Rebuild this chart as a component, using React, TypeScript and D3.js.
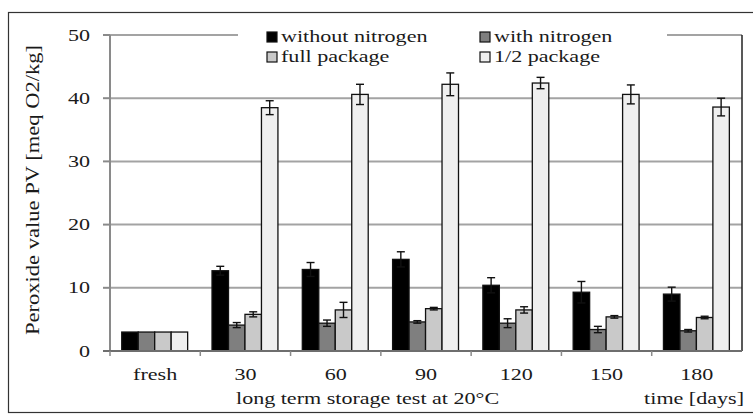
import * as d3 from 'd3'

const categories = ['fresh', '30', '60', '90', '120', '150', '180']
const seriesNames = ['without nitrogen', 'with nitrogen', 'full package', '1/2 package']
const seriesColors = ['#000000', '#7f7f7f', '#c9c9c9', '#efefef']

// values (meq O2/kg)
const withoutNitrogen = [3.0, 12.7, 12.9, 14.5, 10.4, 9.3, 9.0]
const withNitrogen = [3.0, 4.1, 4.4, 4.6, 4.4, 3.4, 3.2]
const fullPackage = [3.0, 5.8, 6.5, 6.7, 6.5, 5.4, 5.3]
const halfPackage = [3.0, 38.5, 40.6, 42.2, 42.4, 40.6, 38.6]

const errWithout = [0, 0.7, 1.1, 1.2, 1.2, 1.7, 1.1]
const errWith = [0, 0.4, 0.5, 0.2, 0.7, 0.5, 0.2]
const errFull = [0, 0.4, 1.2, 0.2, 0.5, 0.2, 0.2]
const errHalf = [0, 1.1, 1.6, 1.8, 0.9, 1.5, 1.4]

const yTicks = [0, 10, 20, 30, 40, 50]

const values = [withoutNitrogen, withNitrogen, fullPackage, halfPackage]
const errors = [errWithout, errWith, errFull, errHalf]

const FONT = "'Liberation Serif', 'DejaVu Serif', serif"
const SX = 1.38

function T({ x, y, anchor = 'start', size = 16, children }: { x: number; y: number; anchor?: string; size?: number; children: any }) {
  return (
    <text transform={`translate(${x},${y}) scale(${SX},1)`} textAnchor={anchor} fontSize={size} style={{ fontFamily: FONT }} fill="#1a1a1a">
      {children}
    </text>
  )
}

export default function App() {
  const width = 753
  const height = 416
  const left = 110
  const right = 742
  const top = 35
  const bottom = 351

  const y = d3.scaleLinear().domain([0, 50]).range([bottom, top])
  const x0 = d3.scaleBand().domain(categories).range([left, right])
  const bw = x0.bandwidth()
  const x1 = d3.scaleBand().domain(seriesNames).range([bw * 0.13, bw * 0.86])
  const w = x1.bandwidth()

  const legendItems = [
    { name: seriesNames[0], color: seriesColors[0], x: 267, y: 37 },
    { name: seriesNames[1], color: seriesColors[1], x: 480, y: 37 },
    { name: seriesNames[2], color: seriesColors[2], x: 267, y: 57 },
    { name: seriesNames[3], color: seriesColors[3], x: 480, y: 57 },
  ]

  return (
    <svg width={width} height={height} style={{ position: 'absolute', left: 0, top: 0, background: '#fff' }}>
      {/* outer frame */}
      <rect x={8.5} y={12.5} width={760} height={400} fill="none" stroke="#333" strokeWidth={1.2} />

      {/* gridlines */}
      {yTicks.filter((t) => t > 0).map((t) => (
        <line key={t} x1={left} x2={right} y1={y(t)} y2={y(t)} stroke="#a3a3a3" strokeWidth={2} />
      ))}

      {/* legend box hides the top gridline */}
      <rect x={238} y={18} width={429} height={52} fill="#fff" />

      {/* bars */}
      {categories.map((c, i) => (
        <g key={c} transform={`translate(${x0(c)},0)`}>
          {seriesNames.map((s, k) => {
            const v = values[k][i]
            const e = errors[k][i]
            const bx = x1(s)!
            return (
              <g key={s}>
                <rect x={bx} y={y(v)} width={w} height={y(0) - y(v)} fill={seriesColors[k]} stroke="#111" strokeWidth={1.3} />
                {e > 0 && (
                  <g stroke="#111" strokeWidth={1.4}>
                    <line x1={bx + w / 2} x2={bx + w / 2} y1={y(v + e)} y2={y(v - e)} />
                    <line x1={bx + w / 2 - 4} x2={bx + w / 2 + 4} y1={y(v + e)} y2={y(v + e)} />
                    <line x1={bx + w / 2 - 4} x2={bx + w / 2 + 4} y1={y(v - e)} y2={y(v - e)} />
                  </g>
                )}
              </g>
            )
          })}
        </g>
      ))}

      {/* y axis */}
      <line x1={left} x2={left} y1={top} y2={bottom} stroke="#8a8a8a" strokeWidth={2} />
      {yTicks.map((t) => (
        <g key={t}>
          <line x1={left - 7} x2={left} y1={y(t)} y2={y(t)} stroke="#8a8a8a" strokeWidth={2} />
          <T x={90} y={y(t) + 5.5} anchor="end">{t}</T>
        </g>
      ))}

      {/* right border of plot */}
      <line x1={right} x2={right} y1={top} y2={bottom} stroke="#222" strokeWidth={1.5} />

      {/* x axis */}
      <line x1={left - 7} x2={right} y1={bottom} y2={bottom} stroke="#6e6e6e" strokeWidth={2} />
      {categories.map((c) => (
        <line key={c} x1={x0(c)!} x2={x0(c)!} y1={bottom} y2={bottom + 5} stroke="#8a8a8a" strokeWidth={1.5} />
      ))}
      {categories.map((c) => (
        <T key={c} x={x0(c)! + bw / 2} y={380} anchor="middle">{c}</T>
      ))}

      <T x={236} y={404}>long term storage test at 20°C</T>
      <T x={744} y={404} anchor="end">time  [days]</T>

      {/* y title */}
      <text
        transform="translate(39,190) rotate(-90) scale(1,1.25)"
        textAnchor="middle"
        fontSize={15}
        style={{ fontFamily: FONT }}
        fill="#1a1a1a"
        textLength={290}
        lengthAdjust="spacingAndGlyphs"
      >
        Peroxide value PV [meq O2/kg]
      </text>

      {/* legend */}
      {legendItems.map((d) => (
        <g key={d.name}>
          <rect x={d.x} y={d.y - 5} width={10} height={10} fill={d.color} stroke="#111" strokeWidth={1.2} />
          <T x={d.x + 14} y={d.y + 5}>{d.name}</T>
        </g>
      ))}
    </svg>
  )
}
